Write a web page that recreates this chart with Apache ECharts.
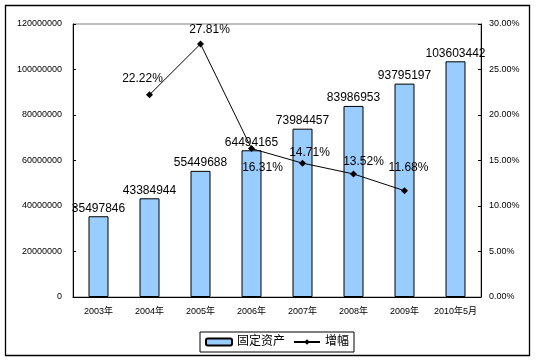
<!DOCTYPE html>
<html><head><meta charset="utf-8">
<script src="https://cdn.jsdelivr.net/npm/echarts@6/dist/echarts.min.js"></script>
<style>html,body{margin:0;padding:0;background:#fff}#c{width:539px;height:363px}</style>
</head><body><div id="c"></div>
<script>
const categories = ['2003年','2004年','2005年','2006年','2007年','2008年','2009年','2010年5月'];
const assets = [35497846, 43384944, 55449688, 64494165, 73984457, 83986953, 93795197, 103603442];
const growth = [null, 22.22, 27.81, 16.31, 14.71, 13.52, 11.68, null];
const leftTicks = [0, 20000000, 40000000, 60000000, 80000000, 100000000, 120000000];
const rightTicks = [0, 5, 10, 15, 20, 25, 30];
const growthLabelOffsets = [null, [-7,-16], [9,-14], [11,19], [7,-10], [10,-12], [4,-23], null];

const FONT = '"Liberation Sans", Arial, "Noto Sans CJK SC", sans-serif';
const chart = echarts.init(document.getElementById('c'));
chart.setOption({
  animation: false,
  textStyle: { fontFamily: FONT },
  graphic: [{ type: 'rect', shape: { x: 5.5, y: 5.5, width: 524, height: 350 }, style: { fill: 'none', stroke: '#000', lineWidth: 1.3 }, z: 100 }],
  grid: { left: 73, right: 58, top: 24, bottom: 66, show: true, borderColor: '#808080', borderWidth: 1, backgroundColor: 'transparent' },
  legend: {
    left: 200, top: 332, padding: [4, 5, 4, 5], itemGap: 8, itemWidth: 26, itemHeight: 7,
    borderColor: '#000', borderWidth: 1,
    textStyle: { fontSize: 12, color: '#000', fontFamily: FONT },
    data: ['固定资产', '增幅']
  },
  xAxis: {
    type: 'category', data: categories,
    axisLine: { lineStyle: { color: '#000', width: 1 } },
    axisTick: { inside: true, length: 3, lineStyle: { color: '#000' } },
    axisLabel: { fontSize: 9, color: '#000', margin: 10, interval: 0 }
  },
  yAxis: [{
    type: 'value', min: leftTicks[0], max: leftTicks[leftTicks.length-1], interval: leftTicks[1]-leftTicks[0],
    axisLine: { show: true, lineStyle: { color: '#000' } },
    axisTick: { show: true, inside: true, length: 3, lineStyle: { color: '#000' } },
    axisLabel: { fontSize: 9, color: '#000', margin: 11, formatter: v => String(v) },
    splitLine: { show: false }
  }, {
    type: 'value', min: rightTicks[0], max: rightTicks[rightTicks.length-1], interval: rightTicks[1]-rightTicks[0], position: 'right',
    axisLine: { show: true, lineStyle: { color: '#000' } },
    axisTick: { show: true, inside: true, length: 3, lineStyle: { color: '#000' } },
    axisLabel: { fontSize: 9, color: '#000', margin: 8, formatter: v => v.toFixed(2) + '%' },
    splitLine: { show: false }
  }],
  series: [{
    name: '固定资产', type: 'bar', data: assets, barWidth: 20,
    itemStyle: { color: '#99CCFF', borderColor: '#000', borderWidth: 1 },
    label: { show: true, position: 'top', distance: 2, fontSize: 12, color: '#000', fontFamily: FONT }
  }, {
    name: '增幅', type: 'line', yAxisIndex: 1,
    data: growth.map((v, i) => v == null ? null : {
      value: v,
      label: { offset: growthLabelOffsets[i] }
    }),
    connectNulls: false,
    symbol: 'diamond', symbolSize: 7, showSymbol: true,
    lineStyle: { color: '#000', width: 1 },
    itemStyle: { color: '#000' },
    label: { show: true, position: 'inside', fontSize: 12, color: '#000', fontFamily: FONT, formatter: p => p.value.toFixed(2) + '%' },
    z: 5
  }]
});
</script></body></html>
